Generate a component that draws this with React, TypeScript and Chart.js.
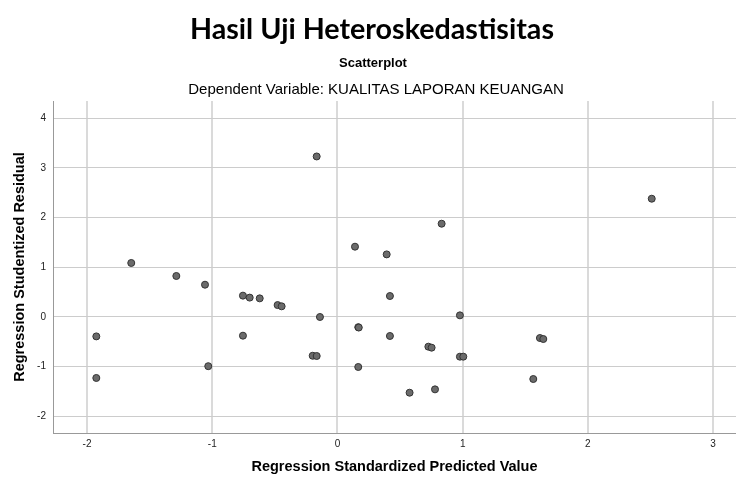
import { useEffect, useRef } from "react";
import { Chart, registerables } from "chart.js";

Chart.register(...registerables);

const mainTitle = "Hasil Uji Heteroskedastisitas";
const chartTitle = "Scatterplot";
const chartSubtitle = "Dependent Variable: KUALITAS LAPORAN KEUANGAN";
const xAxisTitle = "Regression Standardized Predicted Value";
const yAxisTitle = "Regression Studentized Residual";

const predictedValues = [
  -1.926, -1.926, -1.647, -1.287, -1.058, -1.032, -0.755, -0.701, -0.621, -0.755,
  -0.478, -0.446, -0.166, -0.14, -0.198, -0.166, 0.14, 0.166, 0.17, 0.166,
  2.51, 0.832, 0.393, 0.419, 0.978, 0.419, 0.726, 0.752, 0.978, 1.005,
  0.576, 0.779, 1.564, 1.617, 1.644,
];
const residualValues = [
  -0.39, -1.227, 1.087, 0.825, 0.65, -0.99, 0.43, 0.39, 0.375, -0.376,
  0.24, 0.215, 3.23, 0.0, -0.78, -0.785, 1.415, -0.205, -0.212, -1.006,
  2.38, 1.877, 1.26, 0.422, 0.033, -0.382, -0.597, -0.617, -0.798, -0.798,
  -1.523, -1.456, -1.248, -0.423, -0.443,
];

const xMin = -2.272;
const xMax = 3.183;
const yMin = -2.334;
const yMax = 4.346;

const FONT = "'Liberation Sans', Arial, sans-serif";

const titlesPlugin = {
  id: "titles",
  afterDraw(chart: any) {
    const c: CanvasRenderingContext2D = chart.ctx;
    const cx = 372;
    c.save();
    c.fillStyle = "#000";
    c.textAlign = "center";
    c.textBaseline = "middle";
    c.font = "bold 29px Lato, 'Open Sans', sans-serif";
    const w = c.measureText(mainTitle).width;
    const target = 364;
    c.translate(cx, 30);
    if (w > target) c.scale(target / w, 1);
    c.fillText(mainTitle, 0, 0);
    c.restore();

    c.save();
    c.fillStyle = "#000";
    c.textAlign = "center";
    c.textBaseline = "middle";
    c.font = `bold 13px ${FONT}`;
    c.fillText(chartTitle, cx + 1, 63);
    c.font = `15px ${FONT}`;
    c.fillText(chartSubtitle, cx + 4, 90);
    c.restore();
  },
};

export default function App() {
  const ref = useRef<HTMLCanvasElement>(null);

  useEffect(() => {
    const canvas = ref.current;
    if (!canvas) return;
    const chart = new Chart(canvas, {
      type: "scatter",
      data: {
        datasets: [
          {
            data: predictedValues.map((x, i) => ({ x, y: residualValues[i] })),
            backgroundColor: "#6b6b6b",
            borderColor: "#333333",
            borderWidth: 1,
            pointRadius: 3.5,
          },
        ],
      },
      options: {
        animation: false,
        responsive: false,
        layout: { autoPadding: false, padding: { top: 101, left: 0, right: 0, bottom: 0 } },
        plugins: {
          legend: { display: false },
          tooltip: { enabled: false },
          title: { display: false },
        },
        scales: {
          x: {
            type: "linear",
            min: xMin,
            max: xMax,
            ticks: {
              stepSize: 1,
              includeBounds: false,
              font: { family: FONT, size: 10 },
              color: "#222",
              padding: 5,
              maxRotation: 0,
            },
            grid: { color: "#dadada", lineWidth: 2, drawTicks: false },
            border: { color: "#999999", width: 1 },
            title: {
              display: true,
              text: xAxisTitle,
              font: { family: FONT, size: 14.5, weight: "bold" },
              color: "#000",
              padding: { top: 0, bottom: 1 },
            },
            afterFit: (s: any) => {
              s.height = 44;
            },
          },
          y: {
            type: "linear",
            min: yMin,
            max: yMax,
            ticks: {
              stepSize: 1,
              includeBounds: false,
              font: { family: FONT, size: 10 },
              color: "#222",
              padding: 7,
            },
            grid: { color: "#cccccc", lineWidth: 1, drawTicks: false },
            border: { color: "#999999", width: 1 },
            title: {
              display: true,
              text: yAxisTitle,
              font: { family: FONT, size: 14.5, weight: "bold" },
              color: "#000",
              padding: { top: 11, bottom: 0 },
            },
            afterFit: (s: any) => {
              s.width = 53;
            },
          },
        },
      },
      plugins: [titlesPlugin],
    });
    return () => chart.destroy();
  }, []);

  return (
    <div style={{ position: "absolute", left: 0, top: 0, width: 736, height: 477, background: "#fff" }}>
      <canvas ref={ref} width={736} height={477} style={{ display: "block", width: 736, height: 477 }} />
    </div>
  );
}
